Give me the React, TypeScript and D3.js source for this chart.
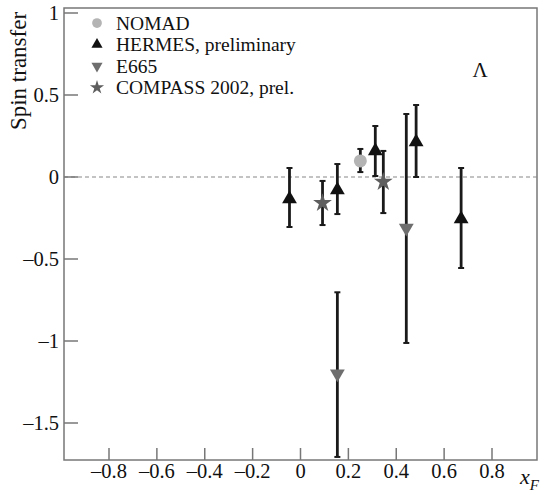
import React from "react";
import * as d3 from "d3";

const W = 543;
const H = 492;

// NOMAD
const nomadX = [0.25];
const nomadY = [0.098];
const nomadLo = [0.03];
const nomadHi = [0.171];

// HERMES, preliminary
const hermesX = [-0.046, 0.154, 0.3125, 0.483, 0.671];
const hermesY = [-0.134, -0.079, 0.159, 0.213, -0.256];
const hermesLo = [-0.305, -0.226, 0.006, 0.0, -0.555];
const hermesHi = [0.055, 0.079, 0.311, 0.439, 0.055];

// E665
const e665X = [0.154, 0.442];
const e665Y = [-1.2, -0.311];
const e665Lo = [-1.707, -1.012];
const e665Hi = [-0.703, 0.384];

// COMPASS 2002, prel.
const compassX = [0.092, 0.346];
const compassY = [-0.159, -0.03];
const compassLo = [-0.293, -0.22];
const compassHi = [-0.024, 0.159];

const xTicks = [-0.8, -0.6, -0.4, -0.2, 0, 0.2, 0.4, 0.6, 0.8];
const yTicks = [1, 0.5, 0, -0.5, -1, -1.5];

const legendLabels = ["NOMAD", "HERMES, preliminary", "E665", "COMPASS 2002, prel."];

const FONT = "'Liberation Serif', 'Times New Roman', serif";

function fmt(v: number): string {
  if (v === 0) return "0";
  const s = String(Math.abs(v));
  return v < 0 ? "\u2013" + s : s;
}

type Series = {
  x: number[];
  y: number[];
  lo: number[];
  hi: number[];
  kind: "circle" | "up" | "down" | "star";
  color: string;
};

const series: Series[] = [
  { x: hermesX, y: hermesY, lo: hermesLo, hi: hermesHi, kind: "up", color: "#111" },
  { x: e665X, y: e665Y, lo: e665Lo, hi: e665Hi, kind: "down", color: "#6e6e6e" },
  { x: compassX, y: compassY, lo: compassLo, hi: compassHi, kind: "star", color: "#5e5e5e" },
  { x: nomadX, y: nomadY, lo: nomadLo, hi: nomadHi, kind: "circle", color: "#b4b4b4" },
];

function Marker({ kind, color, cx, cy, scale = 1 }: { kind: string; color: string; cx: number; cy: number; scale?: number }) {
  if (kind === "circle") {
    return <circle cx={cx} cy={cy} r={6.5 * scale} fill={color} />;
  }
  if (kind === "up" || kind === "down") {
    const p = d3.symbol().type(d3.symbolTriangle).size(95 * scale * scale)()!;
    return <path d={p} fill={color} transform={`translate(${cx},${cy}) rotate(${kind === "down" ? 180 : 0})`} />;
  }
  const p = d3.symbol().type(d3.symbolStar).size(110 * scale * scale)()!;
  return <path d={p} fill={color} transform={`translate(${cx},${cy})`} />;
}

export default function App() {
  const left = 64, right = 537, top = 8, bottom = 460;
  const x = d3.scaleLinear().domain([-0.8, 0.8]).range([109, 492]);
  const y = d3.scaleLinear().domain([-1.5, 1]).range([423, 13]);
  const axisColor = "#777";
  const txt = "#111";

  return (
    <svg width={W} height={H} style={{ position: "absolute", left: 0, top: 0, background: "#fff" }} fontFamily={FONT}>
      <rect x={0} y={0} width={W} height={H} fill="#fff" />
      {/* frame */}
      <rect x={left} y={top} width={right - left} height={bottom - top} fill="none" stroke={axisColor} strokeWidth={1.5} />
      {/* zero line */}
      <line x1={left} x2={right} y1={y(0)} y2={y(0)} stroke="#888" strokeWidth={1.2} strokeDasharray="4,3" />
      {/* y ticks */}
      {yTicks.map((t) => (
        <g key={"y" + t}>
          <line x1={left} x2={left + 14} y1={y(t)} y2={y(t)} stroke={axisColor} strokeWidth={1.5} />
          <text x={59} y={y(t)} dy="0.35em" textAnchor="end" fontSize={20.5} fill={txt}>
            {fmt(t)}
          </text>
        </g>
      ))}
      {/* x ticks */}
      {xTicks.map((t) => (
        <g key={"x" + t}>
          <line x1={x(t)} x2={x(t)} y1={bottom} y2={bottom - 12} stroke={axisColor} strokeWidth={1.5} />
          <text x={x(t)} y={478} textAnchor="middle" fontSize={20.5} fill={txt}>
            {fmt(t)}
          </text>
        </g>
      ))}
      {/* axis labels */}
      <text x={520} y={484} fontSize={22} fontStyle="italic" fill={txt}>
        x
        <tspan fontSize={15} dy={6}>F</tspan>
      </text>
      <text transform={`translate(26,71) rotate(-90)`} textAnchor="middle" fontSize={23} fill={txt}>
        Spin transfer
      </text>
      {/* Lambda */}
      <text x={480} y={77} textAnchor="middle" fontSize={21} fill={txt}>Λ</text>
      {/* data */}
      {series.map((s, si) => (
        <g key={"s" + si}>
          {s.x.map((xv, i) => (
            <g key={i}>
              <line x1={x(xv)} x2={x(xv)} y1={y(s.lo[i])} y2={y(s.hi[i])} stroke="#1a1a1a" strokeWidth={2.8} />
              <line x1={x(xv) - 3} x2={x(xv) + 3} y1={y(s.lo[i])} y2={y(s.lo[i])} stroke="#1a1a1a" strokeWidth={2} />
              <line x1={x(xv) - 3} x2={x(xv) + 3} y1={y(s.hi[i])} y2={y(s.hi[i])} stroke="#1a1a1a" strokeWidth={2} />
              <Marker kind={s.kind} color={s.color} cx={x(xv)} cy={y(s.y[i])} />
            </g>
          ))}
        </g>
      ))}
      {/* legend */}
      {legendLabels.map((lab, i) => {
        const kinds = ["circle", "up", "down", "star"];
        const cols = ["#b4b4b4", "#111", "#6e6e6e", "#5e5e5e"];
        const cy = 23 + i * 21.5;
        return (
          <g key={lab}>
            <Marker kind={kinds[i]} color={cols[i]} cx={97} cy={cy} scale={0.75} />
            <text x={116} y={cy} dy="0.35em" fontSize={19.5} fill={txt}>{lab}</text>
          </g>
        );
      })}
    </svg>
  );
}
